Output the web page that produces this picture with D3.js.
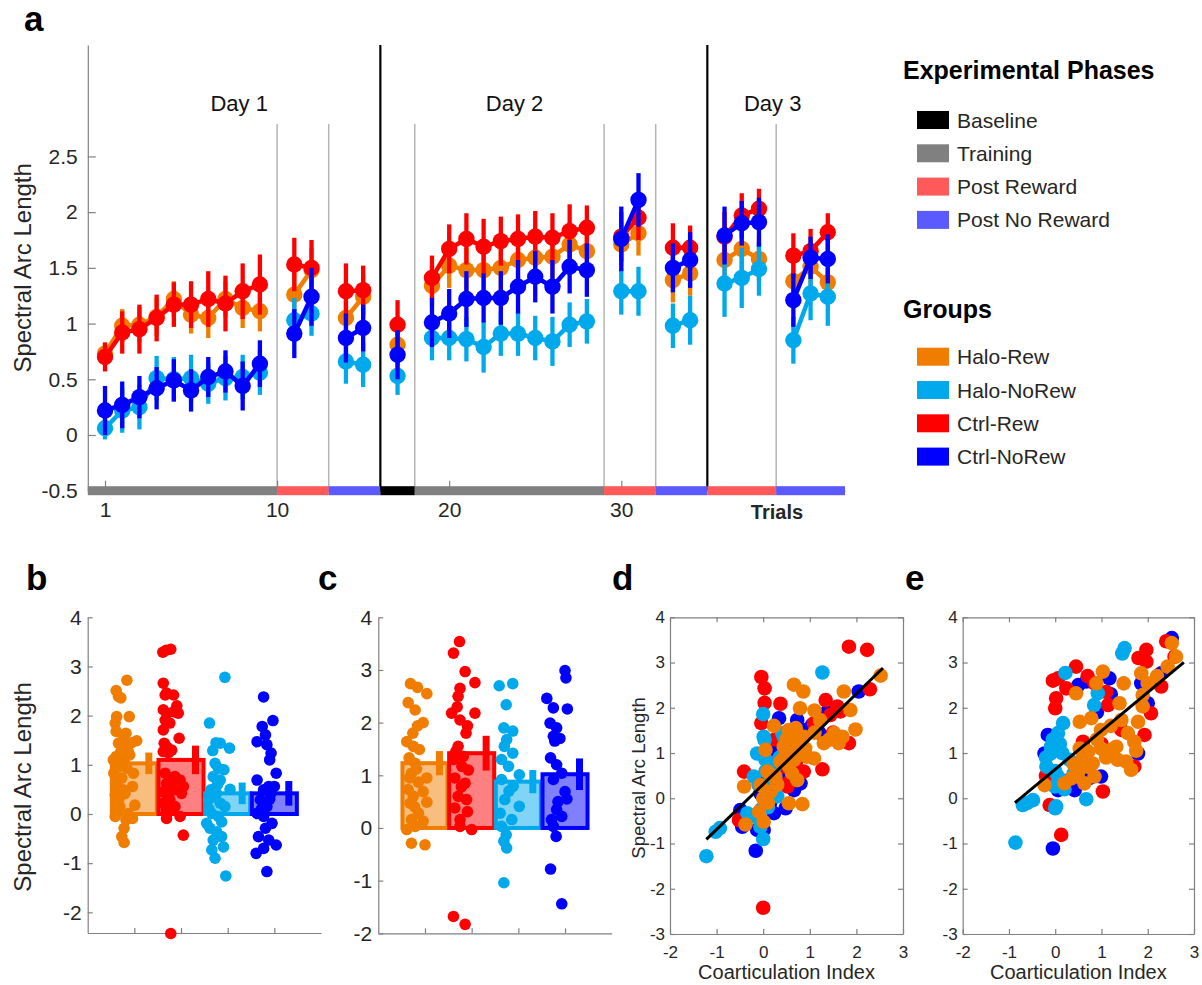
<!DOCTYPE html>
<html>
<head>
<meta charset="utf-8">
<script src="https://cdn.jsdelivr.net/npm/d3@7"></script>
<style>
  body { margin: 0; background: #fff; }
  svg { display: block; font-family: Arial, "Liberation Sans", sans-serif; }
</style>
</head>
<body>
<svg id="fig" width="1202" height="985"></svg>
<script>
// ---------- groups & phases ----------
const groups = ["Halo-Rew", "Halo-NoRew", "Ctrl-Rew", "Ctrl-NoRew"];
const groupColors = ["#F07D00", "#00A9EC", "#FF0000", "#0000FF"];
const barFills = ["#F7BE80", "#80D4F5", "#FF8080", "#8080FF"];
const phaseNames = ["Baseline", "Training", "Post Reward", "Post No Reward"];
const phaseColors = ["#000000", "#808080", "#FF5A5A", "#5A5AFF"];

// phase blocks on the trial axis: [start, end, phase index]
const phaseBlocks = [[-1,10,1],[10,13,2],[13,16,3],[16,18,0],[18,29,1],[29,32,2],[32,35,3],[35,39,2],[39,43,3]];
const dayBreaks = [16, 35];
const phaseBreaks = [10, 13, 18, 29, 32, 39];
const dayLabels = ["Day 1", "Day 2", "Day 3"];
const dayLabelAt = [7.8, 23.8, 38.8];
const trialTicks = [0, 10, 20, 30];
const trialTickLabels = ["1", "10", "20", "30"];

// ---------- panel a: trial means ± sem ----------
const trialPos = [0,1,2,3,4,5,6,7,8,9, 11,12, 14,15, 17, 19,20,21,22,23,24,25,26,27,28, 30,31, 33,34, 36,37,38, 40,41,42];
const trialSeg = [0,0,0,0,0,0,0,0,0,0, 1,1, 2,2, 3, 4,4,4,4,4,4,4,4,4,4, 5,5, 6,6, 7,7,7, 8,8,8];

const haloRewMean = [0.73,0.98,0.99,1.06,1.22,1.08,1.05,1.22,1.14,1.11, 1.26,1.48, 1.05,1.24, 0.81,
  1.34,1.52,1.48,1.48,1.50,1.57,1.59,1.60,1.71,1.65, 1.71,1.81, 1.39,1.45, 1.57,1.67,1.58, 1.38,1.51,1.37];
const haloRewSem = [0.10,0.15,0.16,0.17,0.16,0.17,0.18,0.16,0.18,0.18, 0.20,0.20, 0.20,0.20, 0.17,
  0.18,0.20,0.20,0.20,0.20,0.20,0.20,0.20,0.20,0.20, 0.20,0.20, 0.20,0.20, 0.20,0.20,0.20, 0.20,0.20,0.20];

const haloNoRewMean = [0.06,0.22,0.25,0.51,0.50,0.51,0.46,0.51,0.52,0.56, 1.03,1.09, 0.66,0.63, 0.53,
  0.87,0.87,0.86,0.79,0.91,0.91,0.87,0.84,0.99,1.02, 1.29,1.29, 0.98,1.03, 1.36,1.41,1.49, 0.85,1.27,1.24];
const haloNoRewSem = [0.10,0.20,0.20,0.20,0.20,0.21,0.18,0.20,0.20,0.20, 0.20,0.20, 0.20,0.20, 0.17,
  0.20,0.20,0.20,0.23,0.20,0.20,0.20,0.22,0.20,0.20, 0.21,0.22, 0.20,0.22, 0.30,0.27,0.24, 0.21,0.24,0.26];

const ctrlRewMean = [0.70,0.92,0.95,1.05,1.17,1.17,1.22,1.18,1.29,1.35, 1.53,1.50, 1.29,1.30, 0.99,
  1.41,1.67,1.76,1.69,1.74,1.76,1.78,1.77,1.83,1.86, 1.78,1.95, 1.68,1.68, 1.78,1.97,2.03, 1.61,1.65,1.82];
const ctrlRewSem = [0.13,0.19,0.22,0.21,0.20,0.21,0.25,0.25,0.25,0.27, 0.24,0.25, 0.25,0.22, 0.22,
  0.20,0.22,0.23,0.25,0.22,0.22,0.23,0.22,0.24,0.20, 0.22,0.20, 0.22,0.20, 0.22,0.20,0.18, 0.20,0.20,0.17];

const ctrlNoRewMean = [0.22,0.27,0.34,0.42,0.49,0.40,0.52,0.57,0.44,0.64, 0.91,1.24, 0.87,0.96, 0.72,
  1.01,1.09,1.22,1.23,1.23,1.33,1.42,1.33,1.51,1.48, 1.76,2.11, 1.50,1.57, 1.79,1.90,1.91, 1.21,1.59,1.58];
const ctrlNoRewSem = [0.22,0.21,0.19,0.19,0.19,0.19,0.18,0.19,0.22,0.21, 0.22,0.26, 0.22,0.21, 0.22,
  0.22,0.22,0.25,0.22,0.24,0.24,0.23,0.24,0.24,0.24, 0.29,0.24, 0.22,0.25, 0.26,0.20,0.22, 0.24,0.19,0.22];

// ---------- panels b & c: bars ordered Halo-Rew, Ctrl-Rew, Halo-NoRew, Ctrl-NoRew ----------
const barGroupOrder = [0, 2, 1, 3];
const bMeans = [1.03, 1.10, 0.42, 0.42];
const bSems = [0.22, 0.29, 0.22, 0.25];
// individual values: [jitter, value]
const bHaloRew = [[-0.16,2.72],[-0.39,2.51],[-0.34,2.39],[-0.29,2.36],[-0.11,1.98],[-0.38,1.98],[-0.41,1.85],[-0.39,1.68],[-0.18,1.64],[-0.24,1.54],[0.05,1.49],[-0.06,1.45],[-0.34,1.44],[-0.29,1.27],[-0.13,1.27],[-0.39,1.17],[-0.22,1.10],[-0.34,0.96],[-0.16,0.93],[-0.44,0.83],[-0.02,0.83],[-0.27,0.73],[-0.38,0.56],[-0.04,0.56],[-0.20,0.42],[-0.41,0.39],[0.01,0.18],[-0.31,0.15],[-0.38,0.01],[-0.13,0.01],[-0.41,-0.05],[-0.04,-0.09],[-0.18,-0.12],[-0.22,-0.29],[-0.27,-0.46],[-0.22,-0.58],[-0.31,0.35],[-0.34,0.29],[-0.24,0.49],[-0.45,1.10],[-0.27,1.37],[-0.36,0.66],[-0.10,1.20],[-0.40,0.22]];
const bCtrlRew = [[-0.32,3.33],[-0.22,3.35],[-0.39,3.29],[-0.38,2.66],[-0.31,2.46],[-0.16,2.42],[-0.34,2.42],[-0.09,2.20],[-0.38,2.12],[-0.16,2.08],[-0.31,2.05],[-0.06,2.05],[-0.34,1.91],[-0.24,1.85],[-0.38,1.71],[-0.04,1.54],[-0.36,1.44],[-0.31,1.37],[-0.20,1.30],[-0.38,1.27],[-0.27,1.24],[-0.34,0.83],[-0.24,0.73],[-0.13,0.76],[-0.02,0.69],[-0.31,0.62],[0.05,0.56],[-0.16,0.49],[-0.38,0.45],[0.01,0.42],[-0.24,0.29],[-0.38,0.22],[-0.13,0.15],[-0.31,0.08],[-0.02,-0.05],[-0.31,-0.09],[0.05,-0.43],[-0.22,-2.43],[-0.20,0.58],[-0.28,0.35]];
const bHaloNoRew = [[-0.06,2.78],[-0.39,1.85],[-0.25,1.45],[-0.16,1.44],[-0.32,1.29],[0.04,1.34],[-0.27,1.03],[-0.20,0.93],[-0.08,0.90],[-0.31,0.76],[-0.16,0.69],[-0.36,0.49],[0.05,0.50],[-0.24,0.42],[-0.31,0.35],[-0.41,0.29],[-0.16,0.22],[-0.06,0.15],[-0.34,0.01],[-0.20,-0.05],[-0.45,-0.19],[-0.13,-0.16],[-0.38,-0.29],[-0.24,-0.36],[-0.13,-0.46],[-0.31,-0.53],[-0.09,-0.67],[-0.34,-0.73],[-0.27,-0.90],[-0.04,-1.26],[-0.40,0.10],[-0.22,0.60]];
const bCtrlNoRew = [[-0.23,2.38],[-0.03,1.90],[-0.26,1.78],[-0.19,1.61],[-0.37,1.47],[-0.16,1.41],[-0.07,1.24],[-0.10,1.10],[0.04,0.83],[-0.37,0.69],[-0.12,0.56],[0.00,0.56],[-0.23,0.49],[-0.07,0.42],[-0.30,0.29],[-0.16,0.15],[-0.37,0.01],[-0.23,-0.05],[-0.05,-0.19],[-0.19,-0.29],[-0.34,-0.46],[-0.12,-0.53],[0.04,-0.63],[-0.23,-0.70],[-0.39,-0.80],[-0.16,-1.17],[-0.28,0.10],[-0.10,0.30]];

const cMeans = [1.23, 1.42, 0.88, 1.02];
const cSems = [0.23, 0.33, 0.22, 0.30];
const cHaloRew = [[-0.31,2.74],[-0.16,2.67],[0.04,2.55],[-0.36,2.38],[-0.21,2.24],[-0.04,2.00],[-0.16,1.94],[-0.39,1.64],[-0.25,1.55],[-0.12,1.49],[-0.34,1.33],[-0.21,1.23],[0.04,0.95],[-0.29,1.04],[-0.14,0.87],[-0.36,0.73],[-0.04,0.69],[-0.25,0.60],[0.04,0.49],[-0.32,0.47],[-0.14,0.28],[-0.04,0.13],[-0.29,0.16],[-0.39,-0.03],[-0.21,0.03],[-0.29,-0.29],[0.00,-0.32],[-0.26,1.80],[-0.18,1.12],[-0.33,0.95],[-0.22,0.40]];
const cCtrlRew = [[-0.26,3.54],[-0.39,3.32],[-0.14,2.97],[0.07,2.76],[-0.25,2.65],[-0.29,2.50],[-0.43,2.18],[0.07,2.18],[-0.25,2.05],[-0.09,1.94],[-0.12,1.80],[-0.29,1.55],[-0.18,1.36],[-0.39,1.30],[-0.21,1.17],[-0.07,1.10],[-0.36,0.95],[-0.14,0.85],[-0.29,0.60],[-0.11,0.54],[-0.36,0.38],[-0.09,0.31],[-0.25,0.16],[0.00,-0.03],[-0.25,0.03],[-0.39,-1.68],[-0.14,-1.83],[-0.34,1.45],[-0.22,0.78],[-0.31,2.30]];
const cHaloNoRew = [[-0.41,2.70],[-0.12,2.74],[-0.26,2.34],[-0.31,1.90],[-0.12,1.84],[-0.25,1.68],[-0.12,1.42],[-0.36,1.30],[-0.21,1.17],[0.02,1.01],[-0.36,0.92],[-0.11,0.79],[-0.29,0.54],[0.02,0.41],[-0.39,0.28],[-0.14,0.16],[-0.36,0.03],[-0.26,-0.13],[-0.31,-0.25],[-0.25,-0.38],[-0.31,-1.04],[-0.20,0.70],[-0.30,1.55]];
const cCtrlNoRew = [[0.00,2.99],[0.02,2.85],[-0.39,2.46],[-0.25,2.28],[0.05,2.26],[-0.32,1.99],[-0.18,1.90],[-0.25,1.74],[-0.11,1.70],[-0.31,1.33],[-0.18,1.20],[-0.07,1.04],[-0.25,0.92],[0.00,0.69],[0.04,0.55],[-0.18,0.35],[-0.29,0.16],[-0.07,0.22],[-0.25,0.03],[-0.19,-0.16],[-0.31,-0.78],[-0.07,-1.44],[-0.22,1.65],[-0.15,0.50]];

// ---------- panels d & e: coarticulation index vs spectral arc length [x, y] ----------
const dCtrlNoRew = [[2.05,2.36],[0.34,1.77],[0.73,1.73],[1.05,1.62],[1.37,1.91],[0.26,1.07],[0.80,0.33],[0.66,0.18],[-0.49,-0.26],[-0.45,-0.63],[0.23,-0.33],[0.48,-0.22],[-0.13,-0.70],[0.01,-0.70],[-0.16,-1.16],[0.52,0.55],[0.91,1.51],[-0.06,0.11],[1.20,1.45],[0.30,0.60],[0.15,-0.10],[0.40,0.90],[0.10,0.45],[0.60,1.20]];
const dCtrlRew = [[1.84,3.35],[2.23,3.28],[-0.04,2.68],[0.03,2.43],[2.29,2.41],[0.03,2.11],[0.37,2.09],[1.34,2.17],[1.59,2.03],[1.66,1.92],[1.44,1.84],[1.84,1.22],[1.27,0.64],[-0.41,0.59],[0.16,0.77],[0.52,0.26],[0.37,1.29],[0.87,0.59],[-0.04,1.66],[-0.52,-0.48],[0.00,-2.42],[1.09,1.66],[0.77,1.07],[0.62,0.40],[0.55,0.35],[0.25,1.30],[1.50,1.45],[0.10,0.20],[0.45,0.70],[0.70,0.80]];
const dHaloNoRew = [[1.27,2.78],[0.00,1.86],[0.01,1.36],[0.03,1.29],[-0.13,0.99],[0.05,0.85],[-0.20,0.48],[0.16,0.40],[0.30,0.04],[-0.34,-0.33],[-0.27,-0.41],[-0.93,-0.66],[-1.02,-0.74],[0.00,-0.90],[-1.22,-1.28],[-0.06,-0.63],[0.44,1.36],[0.41,1.44],[0.20,0.10],[0.10,-0.20],[0.35,0.90],[-0.10,0.30],[0.05,0.60],[-0.05,-0.25],[0.25,0.70]];
const dHaloRew = [[2.52,2.71],[0.66,2.51],[0.86,2.36],[1.73,2.36],[0.79,1.99],[1.10,1.94],[1.87,1.95],[0.23,1.60],[1.22,1.73],[1.98,1.52],[0.55,1.51],[0.66,1.44],[0.87,1.36],[1.41,1.29],[1.62,1.22],[1.52,1.44],[0.05,1.07],[0.44,1.14],[0.80,1.07],[0.66,0.85],[0.37,0.81],[1.09,0.88],[0.94,0.92],[0.09,0.59],[0.26,0.48],[-0.41,0.26],[-0.06,0.29],[0.62,0.55],[0.16,0.15],[0.55,-0.11],[0.84,-0.13],[-0.09,-0.30],[0.01,-0.52],[-0.38,-0.58],[0.73,0.40],[1.30,1.22],[1.70,1.36],[0.50,1.30],[0.60,1.00],[0.75,1.20],[0.00,0.00],[0.20,0.50],[0.45,0.90],[1.10,1.45],[0.30,0.30],[0.70,1.55],[0.90,1.10],[0.10,-0.10],[0.55,0.70]];
const dFit = { slope: 1.0, intercept: 0.31, from: -1.22, to: 2.57 };

const eCtrlNoRew = [[2.52,3.54],[-0.05,-1.11],[0.67,2.58],[1.17,2.65],[-0.16,1.40],[1.79,0.99],[0.99,0.48],[0.42,0.18],[1.86,2.54],[2.29,2.76],[2.00,2.10],[0.06,0.18],[-0.23,0.99],[0.90,1.90],[0.50,2.50],[0.30,0.40],[1.20,2.30],[0.75,0.45]];
const eCtrlRew = [[0.45,2.91],[0.06,2.65],[0.24,2.43],[0.02,2.21],[0.00,1.99],[1.97,3.28],[1.97,3.02],[2.40,3.47],[2.29,2.47],[2.07,1.88],[1.93,1.40],[1.71,0.70],[1.03,0.15],[0.13,-0.81],[-0.12,-0.15],[1.14,2.06],[1.43,1.51],[0.85,2.54],[2.58,3.13],[1.80,3.10],[-0.05,2.60],[0.70,2.70],[1.00,1.20],[-0.20,0.50],[1.10,2.35],[0.60,1.25]];
const eHaloNoRew = [[-0.86,-0.98],[-0.70,-0.15],[-0.48,-0.04],[0.02,-0.18],[0.67,-0.02],[-0.19,0.70],[-0.09,1.14],[0.17,1.66],[0.06,1.44],[-0.10,0.99],[1.50,3.32],[0.22,2.77],[0.92,2.32],[0.84,2.06],[0.31,0.85],[0.06,0.48],[-0.01,0.26],[0.49,0.63],[-0.60,-0.10],[0.00,-0.22],[-0.20,0.90],[0.10,1.20],[1.45,3.20],[0.00,0.60],[0.15,1.00],[-0.05,1.30],[0.40,0.55],[0.20,0.20]];
const eHaloRew = [[2.52,3.43],[2.61,3.13],[2.43,2.91],[1.86,2.76],[1.03,2.80],[0.89,2.54],[1.48,2.54],[0.45,2.32],[2.00,2.54],[1.89,2.28],[1.39,2.10],[1.89,2.03],[1.79,1.69],[0.53,1.69],[0.78,1.77],[0.99,1.51],[1.43,1.73],[1.57,1.44],[1.71,1.25],[0.53,1.10],[0.71,1.03],[0.99,1.10],[1.21,1.07],[1.32,1.14],[1.35,0.85],[1.53,0.81],[1.64,0.63],[0.81,0.77],[0.85,0.48],[0.49,0.55],[0.35,0.44],[0.20,0.33],[0.63,0.33],[-0.23,0.29],[2.20,2.70],[0.70,0.70],[1.20,1.60],[0.90,1.30],[1.10,0.90],[0.60,0.90],[1.75,1.05],[0.40,0.75]];
const eFit = { slope: 0.85, intercept: 0.64, from: -0.87, to: 2.78 };

// ---------- drawing ----------
const svg = d3.select("#fig");
const FONT = "Arial, 'Liberation Sans', sans-serif";
const AXIS_GRAY = "#808080";
const TEXT_DARK = "#262626";

function styleAxis(g, fs) {
  g.attr("font-size", fs).attr("font-family", FONT);
  g.select(".domain").attr("stroke", AXIS_GRAY).attr("stroke-width", 1.2);
  g.selectAll(".tick line").attr("stroke", AXIS_GRAY).attr("stroke-width", 1.2);
  g.selectAll(".tick text").attr("fill", TEXT_DARK);
}

function panelLetter(txt, x, y) {
  svg.append("text").attr("x", x).attr("y", y).text(txt)
    .attr("font-family", FONT).attr("font-weight", "bold").attr("font-size", 35).attr("fill", "#000");
}

// ===== panel a =====
const xa = d3.scaleLinear().domain([-1, 43]).range([87.8, 845]);
const ya = d3.scaleLinear().domain([-0.5, 3.5]).range([490.7, 45]);
const gA = svg.append("g");

// phase separators
gA.selectAll("line.pb").data(phaseBreaks).join("line")
  .attr("x1", d => xa(d)).attr("x2", d => xa(d))
  .attr("y1", ya(2.79)).attr("y2", ya(-0.5))
  .attr("stroke", "#B4B4B4").attr("stroke-width", 1.5);
gA.selectAll("line.db").data(dayBreaks).join("line")
  .attr("x1", d => xa(d)).attr("x2", d => xa(d))
  .attr("y1", ya(3.5)).attr("y2", ya(-0.5))
  .attr("stroke", "#000").attr("stroke-width", 2.2);

// axes
const yAxA = gA.append("g").attr("transform", `translate(${xa(-1)},0)`)
  .call(d3.axisLeft(ya).tickValues([-0.5, 0, 0.5, 1, 1.5, 2, 2.5]).tickFormat(d => String(d))
    .tickSizeInner(-8).tickSizeOuter(0).tickPadding(10));
styleAxis(yAxA, 21);
const xAxA = gA.append("g").attr("transform", `translate(0,${ya(-0.5)})`)
  .call(d3.axisBottom(xa).tickValues(trialTicks).tickFormat((d, i) => trialTickLabels[i])
    .tickSizeInner(-10).tickSizeOuter(0).tickPadding(11));
styleAxis(xAxA, 21);

// phase colour strip along the trial axis
gA.selectAll("rect.phase").data(phaseBlocks).join("rect")
  .attr("x", d => xa(d[0])).attr("width", d => xa(d[1]) - xa(d[0]))
  .attr("y", ya(-0.5) - 4.5).attr("height", 9)
  .attr("fill", d => phaseColors[d[2]]);

gA.append("text").attr("x", 777).attr("y", 519).attr("text-anchor", "middle")
  .attr("font-family", FONT).attr("font-weight", "bold").attr("font-size", 20).attr("fill", TEXT_DARK)
  .text("Trials");

gA.selectAll("text.day").data(dayLabels).join("text")
  .attr("x", (d, i) => xa(dayLabelAt[i])).attr("y", 111).attr("text-anchor", "middle")
  .attr("font-family", FONT).attr("font-size", 22).attr("fill", "#111").text(d => d);

gA.append("text").attr("transform", `translate(31,${ya(1.5)}) rotate(-90)`)
  .attr("text-anchor", "middle").attr("font-family", FONT).attr("font-size", 24).attr("fill", TEXT_DARK)
  .text("Spectral Arc Length");

const seriesA = [
  { mean: haloRewMean, sem: haloRewSem, color: groupColors[0] },
  { mean: haloNoRewMean, sem: haloNoRewSem, color: groupColors[1] },
  { mean: ctrlRewMean, sem: ctrlRewSem, color: groupColors[2] },
  { mean: ctrlNoRewMean, sem: ctrlNoRewSem, color: groupColors[3] }
];
const segIds = Array.from(new Set(trialSeg));
seriesA.forEach(s => {
  const pts = trialPos.map((p, i) => ({ x: p, y: s.mean[i], e: s.sem[i], seg: trialSeg[i] }));
  const g = gA.append("g");
  const line = d3.line().x(d => xa(d.x)).y(d => ya(d.y));
  segIds.forEach(id => {
    const segPts = pts.filter(d => d.seg === id);
    if (segPts.length > 1) {
      g.append("path").attr("d", line(segPts)).attr("fill", "none")
        .attr("stroke", s.color).attr("stroke-width", 4.5);
    }
  });
  g.selectAll("line.err").data(pts).join("line")
    .attr("x1", d => xa(d.x)).attr("x2", d => xa(d.x))
    .attr("y1", d => ya(d.y - d.e)).attr("y2", d => ya(d.y + d.e))
    .attr("stroke", s.color).attr("stroke-width", 4.3);
  g.selectAll("circle").data(pts).join("circle")
    .attr("cx", d => xa(d.x)).attr("cy", d => ya(d.y)).attr("r", 8.2)
    .attr("fill", s.color);
});

// legend
const gL = svg.append("g").attr("font-family", FONT);
gL.append("text").attr("x", 903).attr("y", 79).attr("font-weight", "bold").attr("font-size", 25).text("Experimental Phases");
phaseNames.forEach((n, i) => {
  const cy = 120 + i * 33.3;
  gL.append("rect").attr("x", 917).attr("y", cy - 9).attr("width", 32).attr("height", 18).attr("fill", phaseColors[i]);
  gL.append("text").attr("x", 957).attr("y", cy + 7.5).attr("font-size", 21).attr("fill", TEXT_DARK).text(n);
});
gL.append("text").attr("x", 903).attr("y", 318).attr("font-weight", "bold").attr("font-size", 25).text("Groups");
groups.forEach((n, i) => {
  const cy = 356.7 + i * 33.3;
  gL.append("rect").attr("x", 917).attr("y", cy - 9).attr("width", 32).attr("height", 18).attr("fill", groupColors[i]);
  gL.append("text").attr("x", 957).attr("y", cy + 7.5).attr("font-size", 21).attr("fill", TEXT_DARK).text(n);
});

// ===== panels b & c =====
function barPanel(xRange, yDomain, yRange, means, sems, dotSets, withLabel) {
  const x = d3.scaleLinear().domain([0, 5]).range(xRange);
  const y = d3.scaleLinear().domain(yDomain).range(yRange);
  const g = svg.append("g");
  const yAx = g.append("g").attr("transform", `translate(${x(0)},0)`)
    .call(d3.axisLeft(y).tickValues(d3.range(Math.ceil(yDomain[0]), 5)).tickFormat(d => String(d))
      .tickSizeInner(-5).tickSizeOuter(0).tickPadding(6));
  styleAxis(yAx, 21);
  const xAx = g.append("g").attr("transform", `translate(0,${y(yDomain[0])})`)
    .call(d3.axisBottom(x).tickValues([1, 2, 3, 4]).tickFormat("").tickSizeInner(-5).tickSizeOuter(0));
  styleAxis(xAx, 21);
  if (withLabel) {
    g.append("text").attr("transform", `translate(31,${y(0.55)}) rotate(-90)`)
      .attr("text-anchor", "middle").attr("font-family", FONT).attr("font-size", 24).attr("fill", TEXT_DARK)
      .text("Spectral Arc Length");
  }
  const bw = 0.965;
  const cols = barGroupOrder.map(k => groupColors[k]);
  const fills = barGroupOrder.map(k => barFills[k]);
  means.forEach((m, i) => {
    const c = i + 1;
    g.append("rect").attr("x", x(c - bw / 2)).attr("width", x(bw) - x(0))
      .attr("y", y(m)).attr("height", y(0) - y(m))
      .attr("fill", fills[i]).attr("stroke", cols[i]).attr("stroke-width", 4);
  });
  dotSets.forEach((pts, i) => {
    const c = i + 1;
    g.append("g").selectAll("circle").data(pts).join("circle")
      .attr("cx", d => x(c + d[0])).attr("cy", d => y(d[1])).attr("r", 5.8)
      .attr("fill", cols[i]);
  });
  means.forEach((m, i) => {
    const c = i + 1 + 0.31;
    g.append("line").attr("x1", x(c)).attr("x2", x(c))
      .attr("y1", y(m - sems[i])).attr("y2", y(m + sems[i]))
      .attr("stroke", cols[i]).attr("stroke-width", 7);
  });
}
barPanel([87.7, 321], [-2.42, 4], [933, 617.3], bMeans, bSems,
  [bHaloRew, bCtrlRew, bHaloNoRew, bCtrlNoRew], true);
barPanel([378.3, 611.7], [-2, 4], [933.3, 617.3], cMeans, cSems,
  [cHaloRew, cCtrlRew, cHaloNoRew, cCtrlNoRew], false);

// ===== panels d & e =====
function scatterPanel(xRange, sets, fit, withYLabel) {
  const x = d3.scaleLinear().domain([-2, 3]).range(xRange);
  const y = d3.scaleLinear().domain([-3, 4]).range([934, 617.3]);
  const g = svg.append("g");
  const ticksY = d3.range(-3, 5);
  const ticksX = d3.range(-2, 4);
  const l = g.append("g").attr("transform", `translate(${x(-2)},0)`)
    .call(d3.axisLeft(y).tickValues(ticksY).tickFormat(d => String(d)).tickSizeInner(-5).tickSizeOuter(0).tickPadding(5));
  styleAxis(l, 17);
  const r = g.append("g").attr("transform", `translate(${x(3)},0)`)
    .call(d3.axisRight(y).tickValues(ticksY).tickFormat("").tickSizeInner(-5).tickSizeOuter(0));
  styleAxis(r, 17);
  const b = g.append("g").attr("transform", `translate(0,${y(-3)})`)
    .call(d3.axisBottom(x).tickValues(ticksX).tickFormat(d => String(d)).tickSizeInner(-5).tickSizeOuter(0).tickPadding(12));
  styleAxis(b, 17);
  const t = g.append("g").attr("transform", `translate(0,${y(4)})`)
    .call(d3.axisTop(x).tickValues(ticksX).tickFormat("").tickSizeInner(-5).tickSizeOuter(0));
  styleAxis(t, 17);
  g.append("text").attr("x", (xRange[0] + xRange[1]) / 2).attr("y", 979).attr("text-anchor", "middle")
    .attr("font-family", FONT).attr("font-size", 20).attr("fill", TEXT_DARK).text("Coarticulation Index");
  if (withYLabel) {
    g.append("text").attr("transform", `translate(645,${y(0.45)}) rotate(-90)`)
      .attr("text-anchor", "middle").attr("font-family", FONT).attr("font-size", 18.5).attr("fill", TEXT_DARK)
      .text("Spectral Arc Length");
  }
  sets.forEach(s => {
    g.append("g").selectAll("circle").data(s.pts).join("circle")
      .attr("cx", d => x(d[0])).attr("cy", d => y(d[1])).attr("r", 7.3)
      .attr("fill", groupColors[s.color]);
  });
  g.append("line")
    .attr("x1", x(fit.from)).attr("y1", y(fit.intercept + fit.slope * fit.from))
    .attr("x2", x(fit.to)).attr("y2", y(fit.intercept + fit.slope * fit.to))
    .attr("stroke", "#000").attr("stroke-width", 3);
}
scatterPanel([670, 903], [
  { pts: dCtrlNoRew, color: 3 }, { pts: dCtrlRew, color: 2 },
  { pts: dHaloNoRew, color: 1 }, { pts: dHaloRew, color: 0 }], dFit, true);
scatterPanel([962.7, 1194], [
  { pts: eCtrlNoRew, color: 3 }, { pts: eCtrlRew, color: 2 },
  { pts: eHaloNoRew, color: 1 }, { pts: eHaloRew, color: 0 }], eFit, false);

// panel letters
panelLetter("a", 24, 31);
panelLetter("b", 26, 590);
panelLetter("c", 318, 590);
panelLetter("d", 612, 590);
panelLetter("e", 905, 590);
</script>
</body>
</html>
